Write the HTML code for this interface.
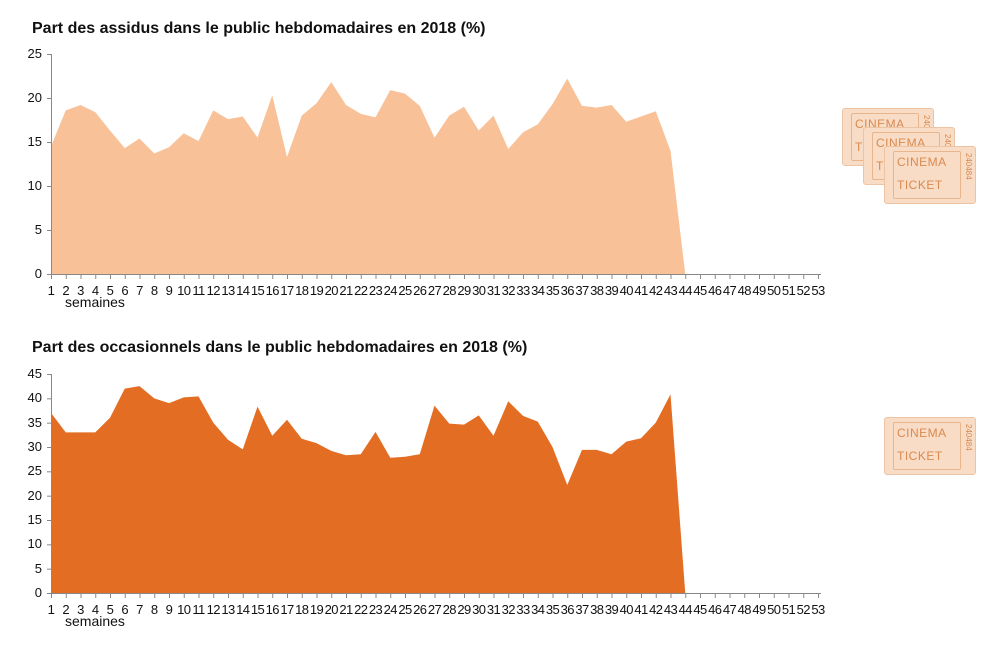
<!DOCTYPE html><html><head><meta charset="utf-8"><style>
body{margin:0;background:#fff;font-family:"Liberation Sans",Arial,sans-serif;}
.t{position:absolute;border:1px solid #ecc4a3;background:#f9dcc6;border-radius:3px;width:90px;height:56px;color:#d98a4f;font-size:12px;letter-spacing:.5px;line-height:1;overflow:hidden}
.t .a{position:absolute;left:12px;top:9px}
.t .b{position:absolute;left:12px;top:32px}
.t .c{position:absolute;right:3px;top:6px;font-size:8px;writing-mode:vertical-rl;letter-spacing:0}
.t .d{position:absolute;left:8px;top:4px;width:66px;height:46px;border:1px solid #e8b58d;border-radius:2px}
</style></head><body>
<svg width="1000" height="647" style="position:absolute;left:0;top:0" font-family="Liberation Sans, Arial, sans-serif">
<text x="32" y="33" font-size="16" font-weight="bold" fill="#111">Part des assidus dans le public hebdomadaires en 2018 (%)</text>
<text x="32" y="352" font-size="16" font-weight="bold" fill="#111">Part des occasionnels dans le public hebdomadaires en 2018 (%)</text>
<polygon id="p1" fill="#f8c197"/>
<polygon id="p2" fill="#e36d23"/>
<g stroke="#888" stroke-width="1" fill="none" id="ax"></g>
<g font-size="13" fill="#111" text-anchor="end">
<text x="42" y="58">25</text><text x="42" y="102">20</text><text x="42" y="146">15</text><text x="42" y="190">10</text><text x="42" y="234">5</text><text x="42" y="278">0</text>
<text x="42" y="378">45</text><text x="42" y="402">40</text><text x="42" y="427">35</text><text x="42" y="451">30</text><text x="42" y="475">25</text><text x="42" y="500">20</text><text x="42" y="524">15</text><text x="42" y="548">10</text><text x="42" y="573">5</text><text x="42" y="597">0</text>
</g>
<g font-size="13" fill="#111" text-anchor="middle" id="wk" letter-spacing="-0.6"></g>
<text x="65" y="307" font-size="14" fill="#111">semaines</text>
<text x="65" y="626" font-size="14" fill="#111">semaines</text>
</svg>
<div class="t" style="left:842px;top:108px"><div class="d"></div><span class="a">CINEMA</span><span class="b">TICKET</span><span class="c">240484</span></div>
<div class="t" style="left:863px;top:127px"><div class="d"></div><span class="a">CINEMA</span><span class="b">TICKET</span><span class="c">240484</span></div>
<div class="t" style="left:884px;top:146px"><div class="d"></div><span class="a">CINEMA</span><span class="b">TICKET</span><span class="c">240484</span></div>
<div class="t" style="left:884px;top:417px"><div class="d"></div><span class="a">CINEMA</span><span class="b">TICKET</span><span class="c">240484</span></div>
<script>
var a=[14.5,18.6,19.2,18.4,16.3,14.3,15.4,13.7,14.4,16,15.1,18.6,17.6,17.9,15.5,20.3,13.3,18,19.4,21.8,19.2,18.2,17.8,20.9,20.5,19.1,15.5,18,19,16.3,18,14.2,16.1,17,19.3,22.2,19.1,18.9,19.2,17.3,17.9,18.5,14,0];
var b=[37,33,33,33,36,42,42.5,40,39,40.2,40.4,35,31.5,29.5,38.3,32.3,35.6,31.7,30.8,29.2,28.3,28.5,33.1,27.8,28,28.5,38.5,34.8,34.6,36.5,32.3,39.4,36.4,35.2,30,22.2,29.4,29.4,28.5,31.1,31.8,35,40.8,0];
function X(i){return 51+i*14.75}
function poly(d,y0,k){var s=X(0)+","+y0;d.forEach(function(v,i){s+=" "+X(i)+","+(y0-k*v)});return s+" "+X(43)+","+y0}
document.getElementById('p1').setAttribute('points',poly(a,274,8.8));
document.getElementById('p2').setAttribute('points',poly(b,593,4.867));
var ax="",wk="";
[[274,54],[593,374]].forEach(function(r){var y0=r[0];
ax+='<line x1="51.5" y1="'+r[1]+'" x2="51.5" y2="'+y0+'"/><line x1="51" y1="'+(y0+.5)+'" x2="821" y2="'+(y0+.5)+'"/>';
for(var i=0;i<=52;i++){ax+='<line x1="'+(X(i)+.5)+'" y1="'+y0+'" x2="'+(X(i)+.5)+'" y2="'+(y0+5)+'"/>';wk+='<text x="'+X(i)+'" y="'+(y0+21)+'">'+(i+1)+'</text>';}
var t=(y0==274)?[0,5,10,15,20,25]:[0,5,10,15,20,25,30,35,40,45];var k=(y0==274)?8.8:4.867;
t.forEach(function(v){ax+='<line x1="47" y1="'+(y0-k*v+.5)+'" x2="51" y2="'+(y0-k*v+.5)+'"/>'});});
document.getElementById('ax').innerHTML=ax;document.getElementById('wk').innerHTML=wk;
</script>
</body></html>
